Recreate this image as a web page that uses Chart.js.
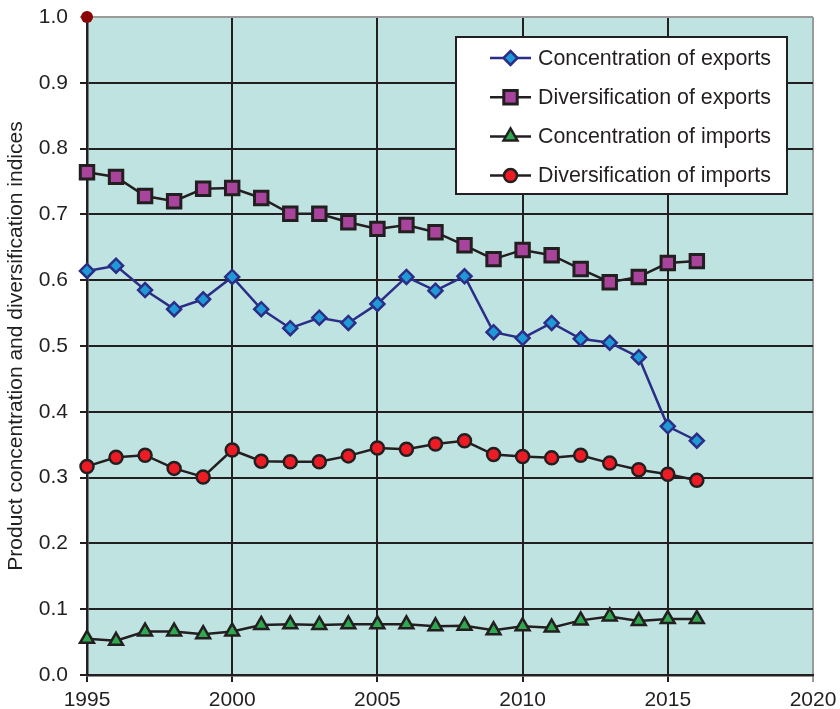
<!DOCTYPE html>
<html>
<head>
<meta charset="utf-8">
<script src="https://cdn.jsdelivr.net/npm/chart.js@4.4.1/dist/chart.umd.min.js"></script>
<style>
html,body{margin:0;padding:0;background:#ffffff;}
#wrap{width:840px;height:709px;position:relative;}
</style>
</head>
<body>
<div id="wrap"><canvas id="c" width="840" height="709"></canvas></div>
<script>
// ---- data ----
const years = [1995,1996,1997,1998,1999,2000,2001,2002,2003,2004,2005,2006,2007,2008,2009,2010,2011,2012,2013,2014,2015,2016];
const concExports = [0.614,0.622,0.585,0.556,0.571,0.605,0.556,0.527,0.543,0.535,0.564,0.605,0.584,0.606,0.521,0.512,0.535,0.511,0.505,0.483,0.378,0.356];
const divExports  = [0.764,0.757,0.728,0.720,0.739,0.740,0.725,0.701,0.701,0.688,0.678,0.684,0.673,0.653,0.632,0.646,0.638,0.617,0.597,0.605,0.626,0.629];
const concImports = [0.055,0.052,0.066,0.066,0.062,0.066,0.076,0.077,0.076,0.077,0.077,0.077,0.074,0.075,0.068,0.074,0.072,0.083,0.089,0.082,0.085,0.085];
const divImports  = [0.317,0.331,0.334,0.314,0.301,0.342,0.325,0.324,0.324,0.333,0.345,0.343,0.351,0.356,0.335,0.332,0.330,0.334,0.322,0.312,0.305,0.296];
const cornerYear = [1995];
const cornerValue = [1.0];
const seriesNames = ["Concentration of exports","Diversification of exports","Concentration of imports","Diversification of imports"];
const xTickValues = [1995,2000,2005,2010,2015,2020];
const yTickValues = [0.0,0.1,0.2,0.3,0.4,0.5,0.6,0.7,0.8,0.9,1.0];
const yTitle = "Product concentration and diversification indices";

// ---- styles ----
const FONT = "'Liberation Sans', Arial, Helvetica, sans-serif";
const TXT = '#231f20';
const styles = [
  {line:'#2b2e87', lw:2.5, style:'rectRot', r:7,   fill:'#1f9ad6', border:'#2b2e87', bw:2.5},
  {line:'#231f20', lw:2.5, style:'rect',    r:9.5, fill:'#a8449b', border:'#231f20', bw:3},
  {line:'#231f20', lw:2.5, style:'triangle',r:8,   fill:'#2fa84f', border:'#231f20', bw:2.5},
  {line:'#231f20', lw:2.5, style:'circle',  r:6.5, fill:'#ed1c24', border:'#231f20', bw:2.5}
];
const seriesValues = [concExports, divExports, concImports, divImports];

const datasets = seriesValues.map((vals, i) => ({
  label: seriesNames[i],
  data: years.map((x, j) => ({x: x, y: vals[j]})),
  borderColor: styles[i].line,
  borderWidth: styles[i].lw,
  pointStyle: styles[i].style,
  pointRadius: styles[i].r,
  pointHoverRadius: styles[i].r,
  pointBackgroundColor: styles[i].fill,
  pointBorderColor: styles[i].border,
  pointBorderWidth: styles[i].bw,
  tension: 0,
  fill: false,
  clip: false
}));
datasets.push({
  label: '_corner',
  data: cornerYear.map((x, j) => ({x: x, y: cornerValue[j]})),
  showLine: false,
  pointStyle: 'circle',
  pointRadius: 6,
  pointBackgroundColor: '#8b0000',
  pointBorderColor: '#8b0000',
  pointBorderWidth: 0,
  clip: false
});

function drawMarker(ctx, st, x, y) {
  ctx.save();
  ctx.fillStyle = st.fill;
  ctx.strokeStyle = st.border;
  ctx.lineWidth = st.bw;
  ctx.beginPath();
  const r = st.r;
  if (st.style === 'rectRot') {
    ctx.moveTo(x, y - r); ctx.lineTo(x + r, y); ctx.lineTo(x, y + r); ctx.lineTo(x - r, y); ctx.closePath();
  } else if (st.style === 'rect') {
    const s = Math.SQRT1_2 * r;
    ctx.rect(x - s, y - s, 2 * s, 2 * s);
  } else if (st.style === 'triangle') {
    ctx.moveTo(x, y - r);
    ctx.lineTo(x + Math.sin(Math.PI*2/3) * r, y + r/2);
    ctx.lineTo(x - Math.sin(Math.PI*2/3) * r, y + r/2);
    ctx.closePath();
  } else {
    ctx.arc(x, y, r, 0, Math.PI * 2);
  }
  ctx.fill();
  ctx.stroke();
  ctx.restore();
}

const bgPlugin = {
  id: 'bg',
  beforeDraw(chart) {
    const {ctx, chartArea: a} = chart;
    ctx.save();
    ctx.fillStyle = '#ffffff';
    ctx.fillRect(0, 0, chart.width, chart.height);
    ctx.fillStyle = '#bfe3e0';
    ctx.fillRect(a.left, a.top, a.right - a.left, a.bottom - a.top);
    ctx.restore();
  }
};

const legendPlugin = {
  id: 'boxLegend',
  afterDraw(chart) {
    const ctx = chart.ctx;
    const a = chart.chartArea;
    const bx = a.left + 369, by = a.top + 20, bw = 331, bh = 157;
    ctx.save();
    ctx.fillStyle = '#ffffff';
    ctx.fillRect(bx, by, bw, bh);
    ctx.strokeStyle = '#231f20';
    ctx.lineWidth = 2;
    ctx.strokeRect(bx, by, bw, bh);
    ctx.font = '21.4px ' + FONT;
    ctx.textBaseline = 'middle';
    ctx.textAlign = 'left';
    for (let i = 0; i < seriesNames.length; i++) {
      const y = by + 21 + i * 39.2;
      const st = styles[i];
      ctx.strokeStyle = st.line;
      ctx.lineWidth = st.lw;
      ctx.beginPath();
      ctx.moveTo(bx + 34, y);
      ctx.lineTo(bx + 75, y);
      ctx.stroke();
      drawMarker(ctx, st, bx + 54.5, y);
      ctx.fillStyle = TXT;
      ctx.fillText(seriesNames[i], bx + 82, y + 1);
    }
    ctx.restore();
  }
};

new Chart(document.getElementById('c'), {
  type: 'line',
  data: {datasets: datasets},
  plugins: [bgPlugin, legendPlugin],
  options: {
    responsive: false,
    animation: false,
    devicePixelRatio: 1,
    layout: {padding: {top: 17, right: 27, left: 0, bottom: 0}},
    plugins: {legend: {display: false}, tooltip: {enabled: false}},
    events: [],
    scales: {
      x: {
        type: 'linear',
        min: 1995, max: 2020,
        afterBuildTicks: s => { s.ticks = xTickValues.map(v => ({value: v})); },
        afterFit: s => { s.height = 34; s.paddingLeft = 0; s.paddingRight = 0; },
        ticks: {
          font: {family: FONT, size: 21},
          color: TXT,
          padding: 6,
          maxRotation: 0,
          autoSkip: false,
          callback: v => String(v)
        },
        grid: {
          color: c => (c.tick && c.tick.value === 2020) ? '#9a9a9a' : '#231f20',
          lineWidth: 2,
          tickLength: 7
        },
        border: {color: '#231f20', width: 2.5}
      },
      y: {
        type: 'linear',
        min: 0, max: 1,
        afterBuildTicks: s => { s.ticks = yTickValues.map(v => ({value: v})); },
        afterFit: s => { s.width = 87; s.paddingTop = 0; s.paddingBottom = 0; },
        ticks: {
          font: {family: FONT, size: 21},
          color: TXT,
          padding: 12,
          autoSkip: false,
          callback: v => Number(v).toFixed(1)
        },
        grid: {
          color: c => (c.tick && Math.abs(c.tick.value - 1) < 1e-9) ? '#9a9a9a' : '#231f20',
          lineWidth: 2,
          tickLength: 7
        },
        border: {color: '#231f20', width: 2.5},
        title: {
          display: true,
          text: yTitle,
          font: {family: FONT, size: 21},
          color: TXT,
          padding: {top: 4, bottom: 0}
        }
      }
    }
  }
});
</script>
</body>
</html>
